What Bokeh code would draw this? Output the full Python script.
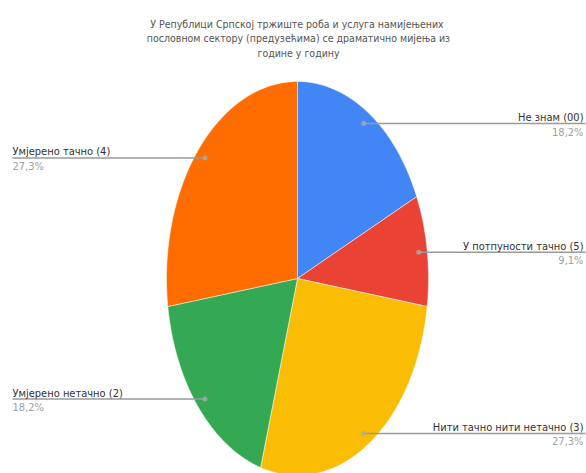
import numpy as np
from bokeh.plotting import figure
from bokeh.models import Range1d
from bokeh.core.properties import value
from bokeh.embed import file_html
from bokeh.resources import INLINE

title_lines = [
    "У Републици Српској тржиште роба и услуга  намијењених",
    "пословном сектору (предузећима) се драматично мијења из",
    "године у годину",
]
categories = [
    "Не знам (00)",
    "У потпуности тачно (5)",
    "Нити тачно нити нетачно (3)",
    "Умјерено нетачно (2)",
    "Умјерено тачно (4)",
]
percents = [18.2, 9.1, 27.3, 18.2, 27.3]
pct_labels = ["18,2%", "9,1%", "27,3%", "18,2%", "27,3%"]
colors = ["#4285F4", "#EA4335", "#FBBC04", "#34A853", "#FF6D01"]

FONT = "DejaVu Sans Condensed"
W, H = 586, 473
cx, cy = 297, H - 278
rx, ry = 131, 197

p = figure(width=W, height=H, x_range=Range1d(0, W), y_range=Range1d(0, H),
           output_backend="svg", toolbar_location=None, min_border=0)
p.axis.visible = False
p.grid.visible = False
p.outline_line_color = None

vals = np.array(percents)
total = vals.sum()
cum = np.concatenate([[0], np.cumsum(vals)]) / total * 2 * np.pi

xs, ys = [], []
for i in range(len(vals)):
    t = np.linspace(cum[i], cum[i + 1], 80)
    xs.append(list(np.concatenate([[cx], cx + rx * np.sin(t)])))
    ys.append(list(np.concatenate([[cy], cy + ry * np.cos(t)])))
p.patches(xs, ys, fill_color=colors, line_color="white", line_width=0.5)

for i in range(len(vals)):
    mid = (cum[i] + cum[i + 1]) / 2
    dx = cx + 0.935 * rx * np.sin(mid)
    dy = cy + 0.935 * ry * np.cos(mid)
    if np.sin(mid) > 0:
        lx, tx, align = 585, 583, "right"
    else:
        lx, tx, align = 12, 12, "left"
    p.line([dx, lx], [dy, dy], line_color="#9a9a9a", line_width=1.5)
    p.scatter([dx], [dy], size=5, fill_color="#aaaaaa", line_color=None, fill_alpha=0.8)
    p.text([tx], [dy + 6], text=[categories[i]], text_align=align,
           text_baseline="alphabetic", text_font=value(FONT),
           text_font_size="11px", text_color="#333333")
    p.text([tx], [dy - 2], text=[pct_labels[i]], text_align=align,
           text_baseline="top", text_font=value(FONT),
           text_font_size="11px", text_color="#a0a0a0")

for j, line in enumerate(title_lines):
    p.text([298], [H - 23 - j * 14.5], text=[line], text_align="center",
           text_baseline="alphabetic", text_font=value(FONT),
           text_font_size="10.5px", text_color="#555555")

open("out.html", "w").write(file_html(p, INLINE))
